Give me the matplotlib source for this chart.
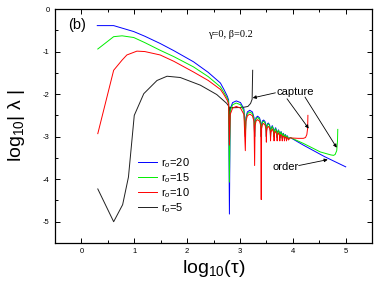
import matplotlib
matplotlib.use("Agg")
import matplotlib.pyplot as plt
from matplotlib.ticker import MultipleLocator, FuncFormatter

plt.rcParams['font.family'] = ['Liberation Sans', 'DejaVu Sans']
plt.rcParams['mathtext.fontset'] = 'custom'
plt.rcParams['mathtext.rm'] = 'Liberation Sans'
plt.rcParams['mathtext.it'] = 'Liberation Sans:italic'
plt.rcParams['axes.unicode_minus'] = False

# ---------------- data ----------------
labels = ["r$_o$=20", "r$_o$=15", "r$_o$=10", "r$_o$=5"]
colors = ["#0000ff", "#00ee00", "#ff0000", "#202020"]

blue_x = [0.30, 0.61, 0.99, 1.20, 1.49, 1.75, 2.12, 2.40, 2.63, 2.70, 2.76, 2.785, 2.800,
          2.815, 2.86, 2.93, 3.01, 3.075, 3.101,
          3.112, 3.14, 3.185, 3.235, 3.265, 3.277,
          3.285, 3.305, 3.335, 3.37, 3.393, 3.402,
          3.409, 3.425, 3.448, 3.475, 3.492, 3.499,
          3.505, 3.518, 3.537, 3.559, 3.572, 3.578,
          3.584, 3.611, 3.640, 3.645,
          3.650, 3.674, 3.698, 3.703,
          3.708, 3.728, 3.750, 3.754,
          3.758, 3.777, 3.796, 3.800,
          3.804, 3.820, 3.837, 3.841,
          3.845, 3.860, 3.875, 3.879,
          3.883, 3.896, 3.910, 3.914,
          3.95, 4.2, 4.6, 5.0]
blue_y = [-0.39, -0.39, -0.53, -0.64, -0.81, -0.98, -1.24, -1.49, -1.74, -1.90, -2.05, -2.14, -4.82,
          -2.35, -2.20, -2.16, -2.20, -2.35, -3.00,
          -2.55, -2.42, -2.38, -2.42, -2.55, -3.00,
          -2.66, -2.55, -2.52, -2.56, -2.66, -3.00,
          -2.73, -2.63, -2.61, -2.65, -2.74, -3.00,
          -2.79, -2.70, -2.68, -2.72, -2.80, -3.00,
          -2.83, -2.74, -2.84, -3.00,
          -2.87, -2.79, -2.88, -3.02,
          -2.91, -2.84, -2.92, -3.03,
          -2.94, -2.88, -2.95, -3.04,
          -2.97, -2.92, -2.98, -3.05,
          -3.00, -2.95, -3.00, -3.06,
          -3.02, -2.98, -3.02, -3.06,
          -3.02, -3.20, -3.47, -3.71]

green_x = [0.31, 0.61, 0.77, 0.99, 1.20, 1.49, 1.75, 2.12, 2.40, 2.63, 2.70, 2.76, 2.785, 2.800,
           2.815, 2.86, 2.93, 3.01, 3.075, 3.101,
           3.112, 3.14, 3.185, 3.235, 3.265, 3.277,
           3.285, 3.305, 3.335, 3.37, 3.393, 3.402,
           3.409, 3.425, 3.448, 3.475, 3.492, 3.499,
           3.505, 3.518, 3.537, 3.559, 3.572, 3.578,
           3.584, 3.611, 3.640, 3.645,
           3.650, 3.674, 3.698, 3.703,
           3.708, 3.728, 3.750, 3.754,
           3.758, 3.777, 3.796, 3.800,
           3.804, 3.820, 3.837, 3.841,
           3.845, 3.860, 3.875, 3.879,
           3.883, 3.896, 3.910, 3.914,
           3.95, 4.2, 4.52, 4.72, 4.77, 4.80, 4.83, 4.845, 4.85]
green_y = [-0.94, -0.65, -0.63, -0.67, -0.79, -0.97, -1.12, -1.36, -1.59, -1.83, -1.97, -2.10, -2.18, -4.07,
           -2.40, -2.25, -2.21, -2.25, -2.40, -3.00,
           -2.59, -2.46, -2.42, -2.46, -2.59, -3.00,
           -2.69, -2.58, -2.55, -2.59, -2.69, -3.00,
           -2.76, -2.66, -2.64, -2.68, -2.77, -3.00,
           -2.81, -2.72, -2.70, -2.74, -2.82, -3.00,
           -2.85, -2.76, -2.86, -3.01,
           -2.89, -2.81, -2.90, -3.02,
           -2.92, -2.85, -2.93, -3.03,
           -2.95, -2.89, -2.96, -3.04,
           -2.98, -2.93, -2.99, -3.05,
           -3.01, -2.96, -3.01, -3.06,
           -3.03, -2.99, -3.03, -3.06,
           -3.02, -3.16, -3.36, -3.43, -3.44, -3.42, -3.33, -3.10, -2.83]

red_x = [0.31, 0.61, 0.77, 0.86, 1.05, 1.20, 1.49, 1.75, 2.12, 2.40, 2.63, 2.70, 2.76, 2.785, 2.800,
         2.815, 2.86, 2.93, 3.01, 3.075, 3.101,
         3.112, 3.14, 3.185, 3.235, 3.265, 3.277,
         3.285, 3.305, 3.335, 3.37, 3.393, 3.402,
         3.409, 3.425, 3.448, 3.475, 3.492, 3.499,
         3.505, 3.518, 3.537, 3.559, 3.572, 3.578,
         3.584, 3.611, 3.640, 3.645,
         3.650, 3.674, 3.698, 3.703,
         3.708, 3.728, 3.750, 3.754,
         3.758, 3.777, 3.796, 3.800,
         3.804, 3.820, 3.837, 3.841,
         3.845, 3.860, 3.875, 3.879,
         3.883, 3.896, 3.910, 3.914,
         3.95, 4.10, 4.20, 4.24, 4.265, 4.28, 4.285]
red_y = [-2.93, -1.44, -1.20, -1.08, -0.99, -1.00, -1.08, -1.23, -1.48, -1.68, -1.89, -2.02, -2.15, -2.24, -3.20,
         -2.48, -2.33, -2.29, -2.33, -2.48, -3.33,
         -2.64, -2.51, -2.47, -2.51, -2.64, -3.68,
         -2.74, -2.63, -2.60, -2.64, -2.74, -4.48,
         -2.81, -2.71, -2.69, -2.73, -2.82, -3.13,
         -2.86, -2.78, -2.76, -2.80, -2.87, -3.10,
         -2.90, -2.82, -2.91, -3.10,
         -2.94, -2.87, -2.95, -3.10,
         -2.97, -2.91, -2.98, -3.10,
         -3.00, -2.95, -3.01, -3.10,
         -3.02, -2.98, -3.03, -3.10,
         -3.04, -3.00, -3.04, -3.10,
         -3.05, -3.02, -3.05, -3.08,
         -3.03, -3.04, -3.04, -3.02, -2.95, -2.80, -2.50]

black_x = [0.31, 0.61, 0.78, 0.89, 1.00, 1.18, 1.43, 1.62, 1.87, 2.25, 2.56, 2.75, 2.79,
           2.80, 2.81, 2.90, 3.07, 3.15, 3.20, 3.23, 3.24]
black_y = [-4.23, -5.00, -4.60, -3.95, -2.50, -1.99, -1.68, -1.58, -1.61, -1.79, -2.01, -2.22, -2.29,
           -2.70, -2.31, -2.32, -2.31, -2.29, -2.22, -2.12, -1.44]

# ---------------- figure ----------------
fig = plt.figure(figsize=(3.74, 2.91), dpi=100)
ax = fig.add_axes([0.147, 0.165, 0.848, 0.804])

lw = 0.7
hb, = ax.plot(blue_x, blue_y, color=colors[0], lw=lw)
hk, = ax.plot(black_x, black_y, color=colors[3], lw=lw)
hg, = ax.plot(green_x, green_y, color=colors[1], lw=lw)
hr, = ax.plot(red_x, red_y, color=colors[2], lw=lw)

ax.set_xlim(-0.5, 5.5)
ax.set_ylim(-5.5, 0)
ax.xaxis.set_major_locator(MultipleLocator(1))
ax.xaxis.set_minor_locator(MultipleLocator(0.5))
ax.yaxis.set_major_locator(MultipleLocator(1))
ax.yaxis.set_minor_locator(MultipleLocator(0.5))
ax.xaxis.set_major_formatter(FuncFormatter(lambda v, p: "%d" % round(v)))
ax.yaxis.set_major_formatter(FuncFormatter(lambda v, p: "%d" % round(v)))
ax.tick_params(which='both', direction='in', top=True, right=True, width=0.7)
ax.tick_params(which='major', length=3.5, labelsize=5.5)
ax.tick_params(which='minor', length=2)
ax.tick_params(axis='x', pad=3.5)
ax.tick_params(axis='y', pad=4)
for s in ax.spines.values():
    s.set_linewidth(0.9)

ax.set_xlabel("log$_{10}$(τ)", fontsize=14, labelpad=2)
ax.set_ylabel("log$_{10}$| λ |", fontsize=14, labelpad=11)

ax.legend([hb, hg, hr, hk], labels, loc='center left', bbox_to_anchor=(0.263, 0.2455),
          frameon=False, fontsize=8, handlelength=1.7, handletextpad=0.3,
          labelspacing=0.1, borderpad=0, borderaxespad=0)

ax.text(-0.08, -0.38, "(b)", fontsize=10.5, ha='center', va='center')
ax.text(2.82, -0.61, "γ=0, β=0.2", fontsize=7.5, ha='center', va='center',
        family='Liberation Serif')
ax.text(4.04, -1.96, "capture", fontsize=8, ha='center', va='center')
ax.text(3.87, -3.72, "order", fontsize=8, ha='center', va='center')

ap = dict(arrowstyle='-|>', lw=0.6, color='k', mutation_scale=5, shrinkA=0, shrinkB=0)
ax.annotate('', xy=(3.24, -2.09), xytext=(3.67, -1.97), arrowprops=ap)
ax.annotate('', xy=(4.30, -2.81), xytext=(3.89, -2.11), arrowprops=ap)
ax.annotate('', xy=(4.83, -3.26), xytext=(4.23, -2.07), arrowprops=ap)
ax.annotate('', xy=(4.66, -3.54), xytext=(4.11, -3.68), arrowprops=ap)

fig.savefig("out.png", dpi=100)
